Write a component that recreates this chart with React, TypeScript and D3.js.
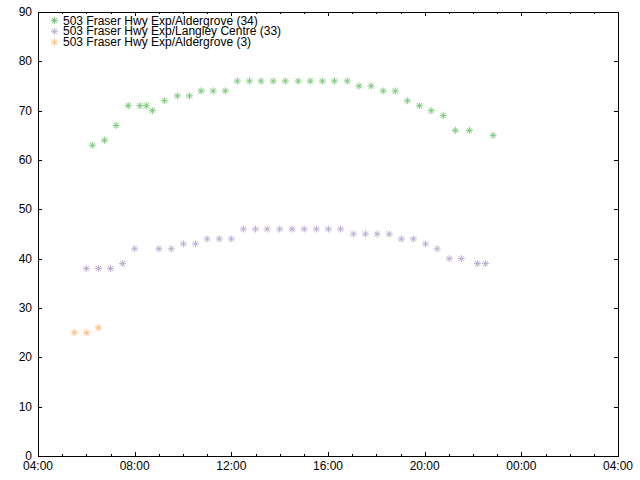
import React from "react";
import * as d3 from "d3";

const seriesNames = [
  "503 Fraser Hwy Exp/Aldergrove (34)",
  "503 Fraser Hwy Exp/Langley Centre (33)",
  "503 Fraser Hwy Exp/Aldergrove (3)",
];
const seriesColors = ["#7fc97f", "#beaed4", "#fdc086"];

const aldergroveTimes = [
  "06:15", "06:45", "07:14", "07:44", "08:13", "08:29", "08:44", "09:14", "09:46", "10:16",
  "10:45", "11:15", "11:45", "12:15", "12:45", "13:14", "13:44", "14:14", "14:46", "15:16",
  "15:46", "16:16", "16:48", "17:17", "17:47", "18:17", "18:47", "19:17", "19:47", "20:16",
  "20:46", "21:16", "21:51", "22:50",
];
const aldergroveValues = [
  63, 64, 67, 71, 71, 71, 70, 72, 73, 73,
  74, 74, 74, 76, 76, 76, 76, 76, 76, 76,
  76, 76, 76, 75, 75, 74, 74, 72, 71, 70,
  69, 66, 66, 65,
];

const langleyTimes = [
  "06:00", "06:30", "07:00", "07:30", "08:00", "09:00", "09:31", "10:01", "10:31", "11:00",
  "11:30", "12:00", "12:30", "13:00", "13:29", "14:00", "14:31", "15:01", "15:31", "16:01",
  "16:31", "17:03", "17:33", "18:02", "18:32", "19:02", "19:32", "20:02", "20:31", "21:01",
  "21:31", "22:11", "22:31",
];
const langleyValues = [
  38, 38, 38, 39, 42, 42, 42, 43, 43, 44,
  44, 44, 46, 46, 46, 46, 46, 46, 46, 46,
  46, 45, 45, 45, 45, 44, 44, 43, 42, 40,
  40, 39, 39,
];

const aldergrove3Times = ["05:30", "06:01", "06:30"];
const aldergrove3Values = [25, 25, 26];

const yTicks = [0, 10, 20, 30, 40, 50, 60, 70, 80, 90];
const xTickLabels = ["04:00", "08:00", "12:00", "16:00", "20:00", "00:00", "04:00"];

function toHours(t: string): number {
  const [h, m] = t.split(":").map(Number);
  let v = h + m / 60;
  if (v < 4) v += 24;
  return v;
}

const W = 640;
const H = 480;
const left = 38;
const right = 618;
const top = 12;
const bottom = 456;

function Star({ x, y, color }: { x: number; y: number; color: string }) {
  const r = 3.5;
  const d = r * 0.75;
  return (
    <g stroke={color} strokeWidth={1}>
      <line x1={x - r} y1={y} x2={x + r} y2={y} />
      <line x1={x} y1={y - r} x2={x} y2={y + r} />
      <line x1={x - d} y1={y - d} x2={x + d} y2={y + d} />
      <line x1={x - d} y1={y + d} x2={x + d} y2={y - d} />
    </g>
  );
}

export default function App() {
  const x = d3.scaleLinear().domain([4, 28]).range([left, right]);
  const y = d3.scaleLinear().domain([0, 90]).range([bottom, top]);

  const series = [
    { times: aldergroveTimes, values: aldergroveValues },
    { times: langleyTimes, values: langleyValues },
    { times: aldergrove3Times, values: aldergrove3Values },
  ];

  const majorX = d3.range(4, 29, 4);
  const minorX = d3.range(4, 29, 1).filter((h) => (h - 4) % 4 !== 0);
  const font = "'Liberation Sans', Arial, sans-serif";

  return (
    <svg
      width={W}
      height={H}
      style={{ position: "absolute", left: 0, top: 0, background: "#fff" }}
      fontFamily={font}
      fontSize={12}
    >
      <rect x={0} y={0} width={W} height={H} fill="#fff" />
      {/* ticks */}
      <g stroke="#000" strokeWidth={1}>
        {yTicks.map((t) => (
          <g key={"y" + t}>
            <line x1={left} x2={left + 4} y1={Math.round(y(t)) + 0.5} y2={Math.round(y(t)) + 0.5} />
            <line x1={right - 4} x2={right} y1={Math.round(y(t)) + 0.5} y2={Math.round(y(t)) + 0.5} />
          </g>
        ))}
        {majorX.map((h) => (
          <g key={"xm" + h}>
            <line x1={Math.round(x(h)) + 0.5} x2={Math.round(x(h)) + 0.5} y1={bottom} y2={bottom - 4} />
            <line x1={Math.round(x(h)) + 0.5} x2={Math.round(x(h)) + 0.5} y1={top} y2={top + 4} />
          </g>
        ))}
        {minorX.map((h) => (
          <g key={"xn" + h}>
            <line x1={Math.round(x(h)) + 0.5} x2={Math.round(x(h)) + 0.5} y1={bottom} y2={bottom - 2} />
            <line x1={Math.round(x(h)) + 0.5} x2={Math.round(x(h)) + 0.5} y1={top} y2={top + 2} />
          </g>
        ))}
      </g>
      <rect
        x={left + 0.5}
        y={top + 0.5}
        width={right - left}
        height={bottom - top}
        fill="none"
        stroke="#000"
        strokeWidth={1}
      />
      {/* tick labels */}
      {yTicks.map((t) => (
        <text key={"yl" + t} x={left - 6} y={y(t) + 4} textAnchor="end" fill="#000">
          {t}
        </text>
      ))}
      {majorX.map((h, i) => (
        <text key={"xl" + h} x={x(h)} y={bottom + 14} textAnchor="middle" fill="#000">
          {xTickLabels[i]}
        </text>
      ))}
      {/* points */}
      {series.map((s, si) =>
        s.times.map((t, i) => (
          <Star key={si + "-" + i} x={x(toHours(t))} y={y(s.values[i])} color={seriesColors[si]} />
        ))
      )}
      {/* legend */}
      {seriesNames.map((n, i) => (
        <g key={"lg" + i}>
          <Star x={54.5} y={20.5 + i * 10.8} color={seriesColors[i]} />
          <text x={63} y={24.5 + i * 10.8} fill="#000">
            {n}
          </text>
        </g>
      ))}
    </svg>
  );
}
